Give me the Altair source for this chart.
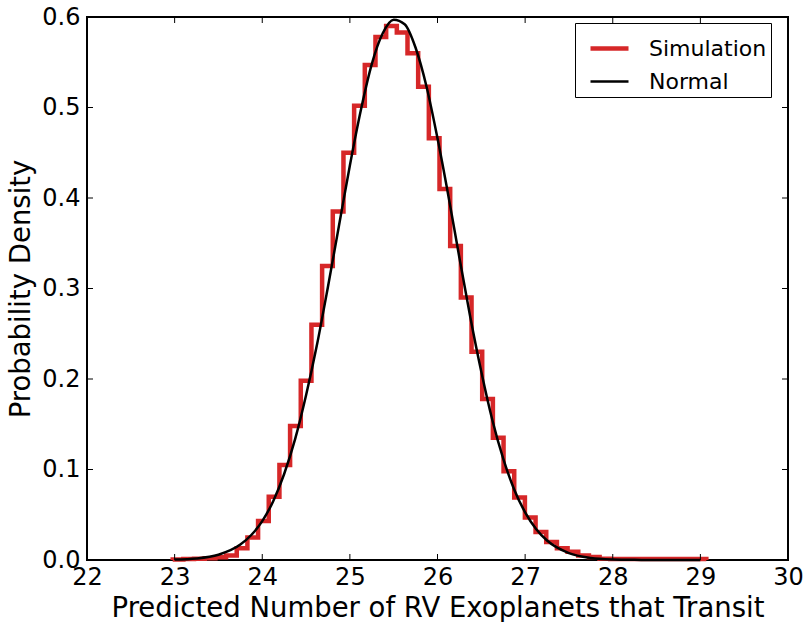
import altair as alt
import pandas as pd

# ---- data ----
bin_start = 22.978
bin_width = 0.1218
sim_density = [0.0005, 0.001, 0.0015, 0.002, 0.003, 0.005, 0.013, 0.025, 0.043, 0.070,
               0.105, 0.148, 0.198, 0.260, 0.325, 0.385, 0.450, 0.502, 0.547, 0.578,
               0.590, 0.583, 0.560, 0.523, 0.466, 0.410, 0.347, 0.290, 0.230, 0.178,
               0.135, 0.098, 0.069, 0.047, 0.031, 0.020, 0.013, 0.009, 0.005, 0.0033,
               0.0015, 0.0012, 0.001, 0.001, 0.001, 0.001, 0.001, 0.001, 0.001, 0.001]

normal_x = [23.0, 23.25, 23.5, 23.75, 23.875, 24.0, 24.125, 24.25, 24.375, 24.5,
            24.625, 24.75, 24.875, 25.0, 25.125, 25.25, 25.375, 25.5, 25.625, 25.75,
            25.875, 26.0, 26.125, 26.25, 26.375, 26.5, 26.625, 26.75, 26.875, 27.0,
            27.125, 27.25, 27.5, 27.75, 28.0, 28.25, 28.5, 29.0]
normal_y = [0.0005, 0.0017, 0.0058, 0.017, 0.0276, 0.043, 0.065, 0.095, 0.1335, 0.182,
            0.238, 0.302, 0.369, 0.436, 0.497, 0.548, 0.582, 0.597, 0.592, 0.566,
            0.523, 0.466, 0.402, 0.334, 0.268, 0.208, 0.155, 0.112, 0.078, 0.0527,
            0.0343, 0.0215, 0.0076, 0.0023, 0.0006, 0.00015, 0.00002, 0.0]

x_ticks = [22, 23, 24, 25, 26, 27, 28, 29, 30]
y_ticks = [0.0, 0.1, 0.2, 0.3, 0.4, 0.5, 0.6]
series_names = ["Simulation", "Normal"]
series_colors = ["#d62728", "#000000"]
series_widths = [4.5, 2.5]

W, H = 701, 543
FONT = "DejaVu Sans"

# step outline of the histogram
edges = [bin_start + k * bin_width for k in range(len(sim_density) + 1)]
hx = [edges[0]] + edges[:-1] + [edges[-1]]
hy = [0.0] + sim_density + [0.0]
hist_df = pd.DataFrame({"x": hx, "y": hy, "o": list(range(len(hx))), "series": "Simulation"})
norm_df = pd.DataFrame({"x": normal_x, "y": normal_y, "series": "Normal"})
xt_df = pd.DataFrame({"x": x_ticks})
yt_df = pd.DataFrame({"y": y_ticks})

xscale = alt.Scale(domain=[22, 30], nice=False, zero=False)
yscale = alt.Scale(domain=[0, 0.6], nice=False)

xaxis = alt.Axis(values=x_ticks, format="d", ticks=False, domain=False, grid=False,
                 labelFlush=False, labelOverlap=False,
                 labelFont=FONT, labelFontSize=24, labelColor="black", labelPadding=5,
                 title="Predicted Number of RV Exoplanets that Transit",
                 titleFont=FONT, titleFontSize=27.5, titleFontWeight="normal",
                 titleColor="black", titlePadding=5)
yaxis = alt.Axis(values=y_ticks, format=".1f", ticks=False, domain=False, grid=False,
                 labelFlush=False, labelOverlap=False,
                 labelFont=FONT, labelFontSize=24, labelColor="black", labelPadding=7,
                 title="Probability Density",
                 titleFont=FONT, titleFontSize=27.5, titleFontWeight="normal",
                 titleColor="black", titlePadding=6)

color = alt.Color("series:N", scale=alt.Scale(domain=series_names, range=series_colors),
                  legend=alt.Legend(title=None, orient="none", legendX=488, legendY=6,
                                    fillColor="white", strokeColor="black",
                                    padding=4, symbolType="stroke", symbolSize=1444,
                                    symbolOffset=9, symbolStrokeWidth=4,
                                    labelFont=FONT, labelFontSize=22,
                                    labelColor="black", labelOffset=18, rowPadding=1,
                                    cornerRadius=0))
swidth = alt.StrokeWidth("series:N", scale=alt.Scale(domain=series_names, range=series_widths),
                         legend=None)

hist = alt.Chart(hist_df).mark_line(interpolate="step-after", strokeJoin="miter").encode(
    x=alt.X("x:Q", scale=xscale, axis=xaxis),
    y=alt.Y("y:Q", scale=yscale, axis=yaxis),
    order="o:Q",
    color=color,
    strokeWidth=swidth,
)
normal = alt.Chart(norm_df).mark_line(interpolate="monotone").encode(
    x="x:Q", y="y:Q", color=color, strokeWidth=swidth,
)

tick_len = 6
bot = alt.Chart(xt_df).mark_rule(color="black", strokeWidth=1).encode(
    x="x:Q", y=alt.value(H), y2=alt.value(H - tick_len))
top = alt.Chart(xt_df).mark_rule(color="black", strokeWidth=1).encode(
    x="x:Q", y=alt.value(0), y2=alt.value(tick_len))
left = alt.Chart(yt_df).mark_rule(color="black", strokeWidth=1).encode(
    y="y:Q", x=alt.value(0), x2=alt.value(tick_len))
right = alt.Chart(yt_df).mark_rule(color="black", strokeWidth=1).encode(
    y="y:Q", x=alt.value(W), x2=alt.value(W - tick_len))

chart = alt.layer(hist, normal, bot, top, left, right).properties(
    width=W, height=H,
    autosize=alt.AutoSizeParams(type="none"),
    padding={"left": 87, "top": 17, "right": 16, "bottom": 62},
    background="white",
).configure_view(stroke="black", strokeWidth=2)

chart.save("out.html", embed_options={"renderer": "svg", "actions": False})
